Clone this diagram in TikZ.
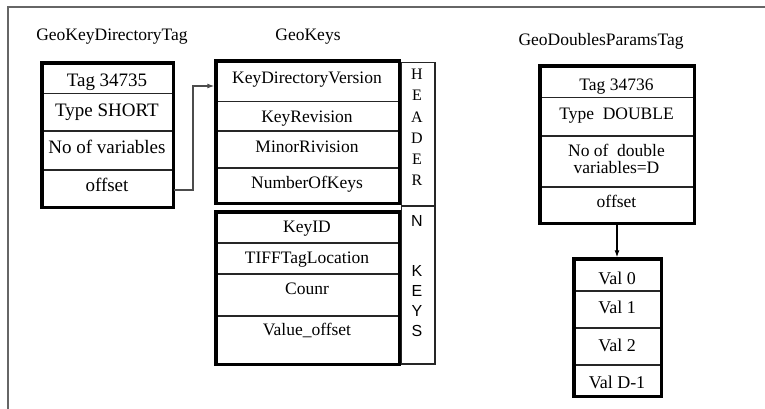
\documentclass[tikz,border=0pt]{standalone}
\usepackage{fontspec}
\setmainfont{Liberation Serif}
\newfontfamily\arialfont{Liberation Sans}
\usetikzlibrary{arrows.meta,fit}
\newcommand\gcell[5]{\node[cellbox, minimum width=#4-#2, minimum height=#5-#3] (#1) at (#2,#3) {};}
\begin{document}
\begin{tikzpicture}[x=1pt,y=-1pt,
  cellbox/.style={draw=black!85, line width=1.5pt, inner sep=0pt, anchor=north west},
  outerbox/.style={draw=black, line width=3.5pt, inner sep=0pt},
  celltext/.style={font=\fontsize{17.5}{20}\selectfont, inner sep=0pt, text height=11.5pt, text depth=0pt},
  bigtext/.style={font=\fontsize{19}{22}\selectfont, inner sep=0pt, text height=12.5pt, text depth=0pt},
  valtext/.style={font=\fontsize{18}{21}\selectfont, inner sep=0pt, text height=12pt, text depth=0pt},
  twoline/.style={font=\fontsize{17.5}{17}\selectfont, inner sep=0pt, align=center},
  titletext/.style={font=\fontsize{17.5}{20}\selectfont, inner sep=0pt, text height=11.5pt, text depth=0pt},
  hdrletters/.style={font=\fontsize{16}{21.2}\selectfont, inner sep=0pt, align=center, anchor=north},
  keyletters/.style={font=\arialfont\fontsize{16}{20}\selectfont, inner sep=0pt, align=center, anchor=north},
  framestyle/.style={draw=black!60, line width=2pt},
  link/.style={draw=black!70, line width=1.1pt},
  arrowtip/.style={-{Latex[length=7pt,width=5pt]}}
]
\useasboundingbox (0,0) rectangle (765,409);
% frame
\draw[framestyle] (8,409) -- (8,7.5) -- (765,7.5);

% titles
\node[titletext] (t1) at (112,35) {GeoKeyDirectoryTag};
\node[titletext] (t2) at (308,35) {GeoKeys};
\node[titletext] (t3) at (601,40) {GeoDoublesParamsTag};

% GeoKeyDirectoryTag box
\gcell{L1}{42}{63}{172}{93}
\gcell{L2}{42}{93}{172}{130}
\gcell{L3}{42}{130}{172}{169}
\gcell{L4}{42}{169}{172}{206}
\node[outerbox, fit=(L1)(L4)] (L) {};
\node[bigtext] (l1t) at (107,80) {Tag 34735};
\node[bigtext] (l2t) at (107,110) {Type SHORT};
\node[bigtext] (l3t) at (107,147) {No of variables};
\node[bigtext] (l4t) at (107,185) {offset};

% GeoKeys header box
\gcell{H1}{216}{61}{398}{101}
\gcell{H2}{216}{101}{398}{130}
\gcell{H3}{216}{130}{398}{167}
\gcell{H4}{216}{167}{398}{202}
\node[outerbox, fit=(H1)(H4)] (H) {};
\node[celltext] (h1t) at (307,78) {KeyDirectoryVersion};
\node[celltext] (h2t) at (307,117) {KeyRevision};
\node[celltext] (h3t) at (307,147) {MinorRivision};
\node[celltext] (h4t) at (307,183) {NumberOfKeys};

% GeoKeys key box
\gcell{K1}{216}{212}{398}{242}
\gcell{K2}{216}{242}{398}{273}
\gcell{K3}{216}{273}{398}{315}
\gcell{K4}{216}{315}{398}{363}
\node[outerbox, fit=(K1)(K4)] (K) {};
\node[celltext] (k1t) at (307,227) {KeyID};
\node[celltext] (k2t) at (307,258) {TIFFTagLocation};
\node[celltext] (k3t) at (307,289) {Counr};
\node[celltext] (k4t) at (307,330) {Value\_offset};

% side column
\gcell{C1}{400.5}{62}{434}{205}
\gcell{C2}{400.5}{205}{434}{363}
\node[hdrletters] (hdr) at (417,69) {H\\E\\A\\D\\E\\R};
\node[keyletters] (nl) at (417,215) {N};
\node[keyletters] (keys) at (417,265) {K\\E\\Y\\S};

% GeoDoublesParamsTag box
\gcell{D1}{540}{66}{693}{97}
\gcell{D2}{540}{97}{693}{135}
\gcell{D3}{540}{135}{693}{186}
\gcell{D4}{540}{186}{693}{222}
\node[outerbox, fit=(D1)(D4)] (D) {};
\node[celltext] (d1t) at (616.5,85) {Tag 34736};
\node[celltext] (d2t) at (616.5,114) {Type\ \ DOUBLE};
\node[twoline] (d3t) at (616.5,159) {No of\ \ double\\variables=D};
\node[celltext] (d4t) at (616.5,202) {offset};

% Val box
\gcell{V1}{574}{259}{660}{290}
\gcell{V2}{574}{290}{660}{327}
\gcell{V3}{574}{327}{660}{364}
\gcell{V4}{574}{364}{660}{395}
\node[outerbox, fit=(V1)(V4)] (V) {};
\node[valtext] (v1t) at (617,278) {Val 0};
\node[valtext] (v2t) at (617,307) {Val 1};
\node[valtext] (v3t) at (617,345) {Val 2};
\node[valtext] (v4t) at (617,382) {Val D-1};

% connectors
\coordinate (elbow) at (193,0);
\draw[link, arrowtip] (L4.east |- 0,190) -| (elbow |- 0,86) -- (H.west |- 0,86);
\draw[draw=black, line width=1.1pt, arrowtip] (D.south -| 617,0) -- (V.north -| 617,0);
\end{tikzpicture}
\end{document}
